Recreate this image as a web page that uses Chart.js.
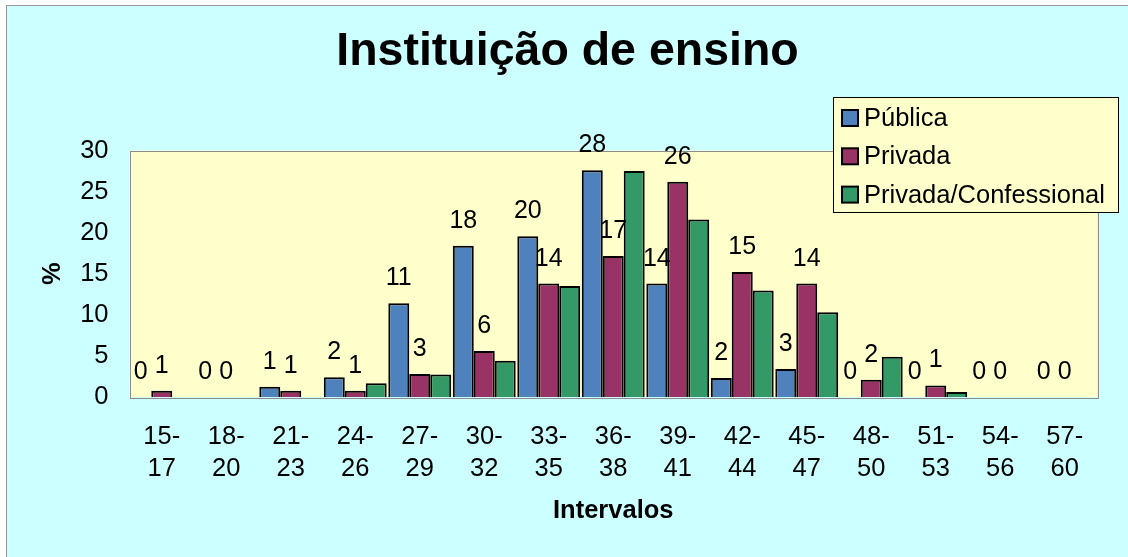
<!DOCTYPE html>
<html>
<head>
<meta charset="utf-8">
<script src="https://cdn.jsdelivr.net/npm/chart.js@4/dist/chart.umd.min.js"></script>
<style>
  body { margin: 0; background: #fff; }
  #wrap { position: absolute; left: 6px; top: 5px; width: 1122px; height: 552px;
          border-left: 1px solid #999; border-top: 1px solid #999; background: #ccffff; }
  canvas { display: block; }
</style>
</head>
<body>
<div id="wrap"><canvas id="chart" width="1121" height="551"></canvas></div>
<script>
// intervals on the x axis (two lines each)
const intervalos = [
  ['15-', '17'], ['18-', '20'], ['21-', '23'], ['24-', '26'], ['27-', '29'],
  ['30-', '32'], ['33-', '35'], ['36-', '38'], ['39-', '41'], ['42-', '44'],
  ['45-', '47'], ['48-', '50'], ['51-', '53'], ['54-', '56'], ['57-', '60']
]
const seriesNames = ['Pública', 'Privada', 'Privada/Confessional']
const publica      = [0, 0, 1.26, 2.4, 11.4, 18.4, 19.55, 27.6, 13.8, 2.3, 3.4, 0, 0, 0, 0]
const privada      = [0.77, 0, 0.77, 0.77, 2.8, 5.6, 13.8, 17.15, 26.2, 15.2, 13.8, 2.1, 1.4, 0, 0]
const confessional = [0, 0, 0, 1.67, 2.75, 4.4, 13.5, 27.5, 21.6, 12.95, 10.3, 4.9, 0.6, 0, 0]
const yMin = 0, yMax = 30, yStep = 5

const colors = ['#4f81bd', '#993366', '#339966']
const FONT = "Arial, 'Liberation Sans', sans-serif"
const TXT = 25.5

Chart.defaults.font.family = FONT
Chart.defaults.color = '#000'

// yellow plot area with grey frame
const plotArea = {
  id: 'plotArea',
  beforeDraw(chart) {
    const { ctx, chartArea: a } = chart
    ctx.save()
    ctx.fillStyle = '#ffffcc'
    ctx.fillRect(a.left, a.top, a.right - a.left, a.bottom - a.top)
    ctx.strokeStyle = '#8c8c8c'
    ctx.lineWidth = 1
    ctx.strokeRect(Math.round(a.left) + 0.5, Math.round(a.top) + 0.5,
      Math.round(a.right - a.left), Math.round(a.bottom - a.top))
    ctx.restore()
  }
}

// value labels above the first two series only
const barLabels = {
  id: 'barLabels',
  afterDatasetsDraw(chart) {
    const { ctx } = chart
    ctx.save()
    ctx.font = '25px ' + FONT
    ctx.fillStyle = '#000'
    ctx.textAlign = 'center'
    ctx.textBaseline = 'alphabetic'
    ;[0, 1].forEach(i => {
      const meta = chart.getDatasetMeta(i)
      meta.data.forEach((bar, j) => {
        const v = chart.data.datasets[i].data[j]
        ctx.fillText(Math.round(v).toString(), bar.x, bar.y - 18)
      })
    })
    ctx.restore()
  }
}

// boxed legend overlapping the top right of the plot
const legendBox = {
  id: 'legendBox',
  afterDraw(chart) {
    const { ctx, chartArea: a } = chart
    const x = Math.round(a.right) - 264, y = Math.round(a.top) - 54, w = 285, h = 115
    ctx.save()
    ctx.fillStyle = '#ffffcc'
    ctx.fillRect(x, y, w, h)
    ctx.strokeStyle = '#000'
    ctx.lineWidth = 1
    ctx.strokeRect(x + 0.5, y + 0.5, w, h)
    ctx.font = TXT + 'px ' + FONT
    ctx.textBaseline = 'middle'
    chart.data.datasets.forEach((ds, i) => {
      const cy = y + 21 + i * 38.3
      ctx.fillStyle = ds.backgroundColor
      ctx.fillRect(x + 9, cy - 8, 16, 16)
      ctx.lineWidth = 2
      ctx.strokeStyle = '#000'
      ctx.strokeRect(x + 9, cy - 8, 16, 16)
      ctx.fillStyle = '#000'
      ctx.fillText(ds.label, x + 31, cy + 1)
    })
    ctx.restore()
  }
}

new Chart(document.getElementById('chart'), {
  type: 'bar',
  data: {
    labels: intervalos,
    datasets: [publica, privada, confessional].map((d, i) => ({
      label: seriesNames[i],
      data: d,
      backgroundColor: colors[i],
      borderColor: '#000',
      borderWidth: 2,
      borderSkipped: 'bottom',
      categoryPercentage: 0.975,
      barPercentage: 1.0
    }))
  },
  options: {
    responsive: false,
    animation: false,
    layout: { padding: { left: 31, right: 31, top: 0, bottom: 0 } },
    plugins: {
      legend: { display: false },
      tooltip: { enabled: false },
      title: {
        display: true,
        text: 'Instituição de ensino',
        color: '#000',
        font: { size: 46.5, weight: 'bold' },
        padding: { top: 18, bottom: 70.7 }
      }
    },
    scales: {
      x: {
        afterFit(scale) { scale.height = 160 },
        grid: { display: false, drawTicks: false },
        border: { display: false },
        ticks: { padding: 24, maxRotation: 0, autoSkip: false, color: '#000',
                 font: { size: TXT, lineHeight: 1.243 } },
        title: { display: true, text: 'Intervalos', color: '#000',
                 font: { size: TXT, weight: 'bold' }, padding: { top: 0, bottom: 30.8 } }
      },
      y: {
        min: yMin, max: yMax,
        afterFit(scale) { scale.width = 91.5 },
        grid: { display: false, drawTicks: false },
        border: { display: false },
        ticks: { stepSize: yStep, padding: 21, color: '#000', font: { size: TXT } },
        title: { display: true, text: '%', color: '#000',
                 font: { size: TXT, weight: 'bold' }, padding: { top: 0, bottom: 0 } }
      }
    }
  },
  plugins: [plotArea, barLabels, legendBox]
})
</script>
</body>
</html>
